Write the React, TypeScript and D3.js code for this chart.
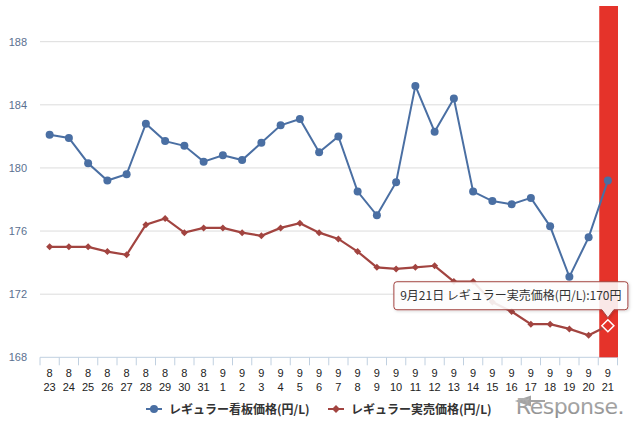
import React from "react";
import * as d3 from "d3";

const categories = [
  "8/23", "8/24", "8/25", "8/26", "8/27", "8/28", "8/29", "8/30", "8/31",
  "9/1", "9/2", "9/3", "9/4", "9/5", "9/6", "9/7", "9/8", "9/9", "9/10",
  "9/11", "9/12", "9/13", "9/14", "9/15", "9/16", "9/17", "9/18", "9/19", "9/20", "9/21",
];

const signboardPrice = [
  182.1, 181.9, 180.3, 179.2, 179.6, 182.8, 181.7, 181.4, 180.4,
  180.8, 180.5, 181.6, 182.7, 183.1, 181.0, 182.0, 178.5, 177.0, 179.1,
  185.2, 182.3, 184.4, 178.5, 177.9, 177.7, 178.1, 176.3, 173.1, 175.6, 179.2,
];

const actualPrice = [
  175.0, 175.0, 175.0, 174.7, 174.5, 176.4, 176.8, 175.9, 176.2,
  176.2, 175.9, 175.7, 176.2, 176.5, 175.9, 175.5, 174.7, 173.7, 173.6,
  173.7, 173.8, 172.8, 172.8, 171.5, 170.9, 170.1, 170.1, 169.8, 169.4, 170.0,
];

const yTicks = [168, 172, 176, 180, 184, 188];
const seriesNames = ["レギュラー看板価格(円/L)", "レギュラー実売価格(円/L)"];
const tooltipText = "9月21日 レギュラー実売価格(円/L):170円";
const highlightIndex = 29;

const BLUE = "#4a6fa3";
const RED = "#a24440";
const FONT = "'Liberation Sans', 'Noto Sans CJK JP', Arial, sans-serif";
const JFONT = "'Noto Sans CJK JP', 'Liberation Sans', sans-serif";

export default function App() {
  const W = 640;
  const H = 426;
  const left = 40;
  const right = 617.5;
  const plotTop = 6;
  const x = d3
    .scaleBand<number>()
    .domain(d3.range(categories.length))
    .range([left, right]);
  const y = d3.scaleLinear().domain([168, 188]).range([357.3, 41.7]);
  const cx = (i: number) => (x(i) as number) + x.bandwidth() / 2;
  const base = y(168);

  const line = d3
    .line<number>()
    .x((_, i) => cx(i))
    .y((d) => y(d));

  const diamond = (px: number, py: number, r: number) =>
    `M${px},${py - r}L${px + r},${py}L${px},${py + r}L${px - r},${py}Z`;

  const hx = cx(highlightIndex);
  const hy = y(actualPrice[highlightIndex]);
  const tipW = 234;
  const tipH = 28;
  const tipRight = hx + 20;
  const tipLeft = tipRight - tipW;
  const tipBottom = hy - 16;
  const tipTop = tipBottom - tipH;
  const r = 3;
  const tipPath =
    `M${tipLeft + r},${tipTop}` +
    `L${tipRight - r},${tipTop}Q${tipRight},${tipTop} ${tipRight},${tipTop + r}` +
    `L${tipRight},${tipBottom - r}Q${tipRight},${tipBottom} ${tipRight - r},${tipBottom}` +
    `L${hx + 6},${tipBottom}L${hx},${tipBottom + 8}L${hx - 6},${tipBottom}` +
    `L${tipLeft + r},${tipBottom}Q${tipLeft},${tipBottom} ${tipLeft},${tipBottom - r}` +
    `L${tipLeft},${tipTop + r}Q${tipLeft},${tipTop} ${tipLeft + r},${tipTop}Z`;

  const edges = d3.range(categories.length + 1).map((i) => left + i * x.step());

  return (
    <div style={{ position: "absolute", left: 0, top: 0 }}>
      <svg width={W} height={H} style={{ display: "block", background: "#fff" }}>
        <defs>
          <filter id="sh" x="-10%" y="-30%" width="120%" height="160%">
            <feDropShadow dx="1" dy="1" stdDeviation="1.5" floodColor="#000" floodOpacity="0.18" />
          </filter>
          <linearGradient id="logo" x1="0" y1="0" x2="0" y2="1">
            <stop offset="0" stopColor="#b8b8b8" />
            <stop offset="1" stopColor="#8a8a8a" />
          </linearGradient>
        </defs>

        {/* gridlines */}
        {yTicks.map((t) => (
          <line key={t} x1={left} x2={right} y1={y(t)} y2={y(t)} stroke={t === 168 ? "#C0D0E0" : "#dcdcdc"} strokeWidth={1} />
        ))}
        {/* y labels */}
        {yTicks.map((t) => (
          <text key={"l" + t} x={27} y={y(t) + 4} textAnchor="end" fontSize={11} fill="#5b7090" fontFamily={FONT}>
            {t}
          </text>
        ))}
        {/* x ticks */}
        {edges.map((e, i) => (
          <line key={"t" + i} x1={e} x2={e} y1={base} y2={base + 8} stroke="#C0D0E0" strokeWidth={1} />
        ))}
        {/* x labels */}
        {categories.map((c, i) => {
          const [m, d] = c.split("/");
          return (
            <g key={"x" + i} fontSize={11} fill="#222" fontFamily={FONT} textAnchor="middle">
              <text x={cx(i)} y={377}>{m}</text>
              <text x={cx(i)} y={391}>{d}</text>
            </g>
          );
        })}

        {/* highlight bar */}
        <rect x={(x(highlightIndex) as number) + 1} y={plotTop} width={x.bandwidth() - 0.5} height={base - plotTop} fill="#E5332A" />

        {/* series lines */}
        <path d={line(signboardPrice) || ""} fill="none" stroke={BLUE} strokeWidth={2} />
        <path d={line(actualPrice) || ""} fill="none" stroke={RED} strokeWidth={2.2} />
        {signboardPrice.map((v, i) => (
          <circle key={"b" + i} cx={cx(i)} cy={y(v)} r={4} fill={BLUE} />
        ))}
        {actualPrice.map((v, i) =>
          i === highlightIndex ? null : <path key={"r" + i} d={diamond(cx(i), y(v), 3.5)} fill={RED} />
        )}

        {/* tooltip */}
        <path d={tipPath} fill="#fff" fillOpacity={0.88} stroke={RED} strokeWidth={1} filter="url(#sh)" />
        <text x={(tipLeft + tipRight) / 2} y={tipTop + 18.5} textAnchor="middle" fontSize={12} fill="#333" fontFamily={JFONT}>
          {tooltipText}
        </text>
        <path d={diamond(hx, hy, 6)} fill="#E5332A" stroke="#fff" strokeWidth={1.5} />

        {/* legend */}
        <line x1={146} x2={162} y1={409} y2={409} stroke={BLUE} strokeWidth={2} />
        <circle cx={154} cy={409} r={4} fill={BLUE} />
        <text x={169} y={414} fontSize={12} fontWeight="bold" fill="#333" fontFamily={JFONT}>
          {seriesNames[0]}
        </text>
        <line x1={328} x2={344} y1={409} y2={409} stroke={RED} strokeWidth={2} />
        <path d={diamond(336, 409, 4)} fill={RED} />
        <text x={351} y={414} fontSize={12} fontWeight="bold" fill="#333" fontFamily={JFONT}>
          {seriesNames[1]}
        </text>

        {/* watermark */}
        <path d="M530,397 L518,401 L530,405 Z M524,401 L545,401" fill="url(#logo)" stroke="#9a9a9a" strokeWidth={2} opacity={0.9} />
        <text x={624} y={414} textAnchor="end" fontSize={22} fill="url(#logo)" fontFamily="'DejaVu Sans', sans-serif" letterSpacing={-0.5}>
          Response.
        </text>
      </svg>
    </div>
  );
}
